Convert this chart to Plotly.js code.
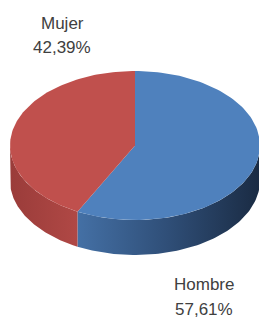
<!DOCTYPE html>
<html>
<head>
<meta charset="utf-8">
<script src="https://cdn.plot.ly/plotly-3.0.1.min.js"></script>
<style>html,body{margin:0;padding:0;background:#fff;}#chart{width:259px;height:320px;}</style>
</head>
<body>
<div id="chart"></div>
<script>
// Data
const categories = ["Hombre", "Mujer"];
const percentages = [57.61, 42.39];
const topColors = ["#4f81bd", "#c0504d"];
const sideScales = [
  [[0, "#4470a5"], [0.5, "#2f4e77"], [1, "#1a2b43"]],
  [[0, "#9a3c3a"], [1, "#b04845"]]
];

// Geometry (style/positioning only)
const cx = 135, cy = 145.5, rx = 125, ry = 74.5, depth = 35;
function pt(deg) {
  const t = deg * Math.PI / 180;
  return [cx + rx * Math.sin(t), cy - ry * Math.cos(t)];
}
const total = percentages.reduce((a, b) => a + b, 0);
const traces = [];
let start = 0;
const slices = percentages.map((v, i) => {
  const a0 = start, a1 = start + v / total * 360;
  start = a1;
  return {a0, a1, i};
});

// Side walls (visible front portion: 90..270 deg)
slices.forEach(s => {
  const lo = Math.max(s.a0, 90), hi = Math.min(s.a1, 270);
  if (hi <= lo) return;
  const xs = [], ys = [];
  const n = 80;
  for (let k = 0; k <= n; k++) {
    const p = pt(lo + (hi - lo) * k / n);
    xs.push(p[0]); ys.push(p[1]);
  }
  for (let k = n; k >= 0; k--) {
    const p = pt(lo + (hi - lo) * k / n);
    xs.push(p[0]); ys.push(p[1] + depth);
  }
  xs.push(xs[0]); ys.push(ys[0]);
  traces.push({
    type: "scatter", mode: "lines", x: xs, y: ys, fill: "toself",
    fillgradient: {type: "horizontal", colorscale: sideScales[s.i]},
    line: {width: 0, color: "rgba(0,0,0,0)"}, hoverinfo: "skip", showlegend: false
  });
});

// Top faces
slices.forEach(s => {
  const xs = [cx], ys = [cy];
  const n = 120;
  for (let k = 0; k <= n; k++) {
    const p = pt(s.a0 + (s.a1 - s.a0) * k / n);
    xs.push(p[0]); ys.push(p[1]);
  }
  xs.push(cx); ys.push(cy);
  traces.push({
    type: "scatter", mode: "lines", x: xs, y: ys, fill: "toself",
    fillcolor: topColors[s.i], line: {width: 0, color: topColors[s.i]},
    hoverinfo: "skip", showlegend: false
  });
});

function fmt(v) { return v.toFixed(2).replace(".", ",") + "%"; }
const labelFont = {family: "Liberation Sans, Arial, sans-serif", size: 17, color: "#404040"};
// [x, y of name line, y of percentage line]
const labelPos = [[204, 284, 309], [62, 23, 47]];
const annotations = [];
categories.forEach((c, i) => {
  annotations.push({
    x: labelPos[i][0], y: labelPos[i][1], xref: "x", yref: "y",
    text: c, showarrow: false, font: labelFont,
    xanchor: "center", yanchor: "middle"
  });
  annotations.push({
    x: labelPos[i][0], y: labelPos[i][2], xref: "x", yref: "y",
    text: fmt(percentages[i]), showarrow: false, font: labelFont,
    xanchor: "center", yanchor: "middle"
  });
});

const layout = {
  width: 259, height: 320,
  margin: {l: 0, r: 0, t: 0, b: 0},
  paper_bgcolor: "#ffffff", plot_bgcolor: "#ffffff",
  xaxis: {range: [0, 259], visible: false, fixedrange: true},
  yaxis: {range: [320, 0], visible: false, fixedrange: true},
  showlegend: false,
  annotations: annotations
};
Plotly.newPlot("chart", traces, layout, {staticPlot: true, displayModeBar: false});
</script>
</body>
</html>
